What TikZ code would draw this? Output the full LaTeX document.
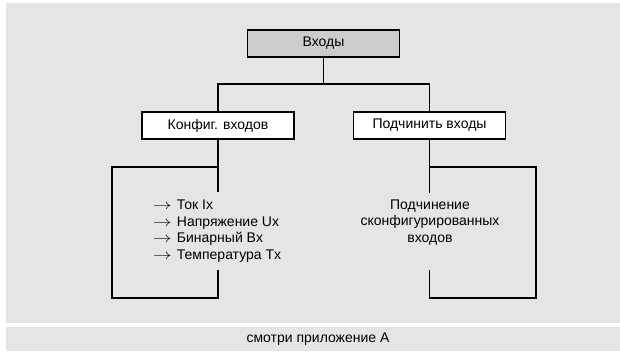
\documentclass[tikz,border=0pt]{standalone}
\usepackage{fontspec}
\usepackage{graphicx}
\setmainfont{Liberation Sans}
\newcommand{\listarrow}{\scalebox{1.3}[1]{$\rightarrow$}}
\begin{document}
\begin{tikzpicture}[x=1pt,y=-1pt,
  lbl/.style={font=\fontsize{14}{16.5}\selectfont, inner sep=0pt},
  boxnode/.style={draw=black, line width=1.6pt, minimum width=152pt, minimum height=27pt, inner sep=0pt, font=\fontsize{14}{16}\selectfont},
  conn/.style={draw=black, line width=1.6pt}]
\useasboundingbox (0,0) rectangle (620,352);
\fill[white] (0,0) rectangle (620,352);
\fill[fill={rgb,255:red,229;green,229;blue,229}] (6,3) rectangle (620,322.5);
\fill[fill={rgb,255:red,229;green,229;blue,229}] (6,326.5) rectangle (620,351);
% boxes
\node[boxnode, fill={rgb,255:red,204;green,204;blue,204}] (inp) at (323.5,43.5) {Входы};
\node[boxnode, fill=white] (conf) at (218,125.5) {Конфиг. входов};
\node[boxnode, fill=white] (sub) at (429.5,125.5) {Подчинить входы};
% tree connectors
\coordinate (junc) at (323.5,84);
\coordinate (jl) at (218,84);
\coordinate (jr) at (429.5,84);
\draw[conn] (inp.south) -- (junc);
\draw[conn, line cap=rect] (jl) -- (jr);
\draw[conn] (jl) -- (conf.north);
\draw[conn] (jr) -- (sub.north);
% left bracket
\coordinate (lt) at (218,192);
\coordinate (lm) at (218,167);
\coordinate (lb) at (218,270);
\draw[conn] (conf.south) -- (lt);
\draw[conn, line join=miter] (lm) -- (112,167) -- (112,298) -- (218,298) -- (lb);
% right bracket
\coordinate (rt) at (429.5,193);
\coordinate (rm) at (429.5,167);
\coordinate (rb) at (429.5,270);
\draw[conn] (sub.south) -- (rt);
\draw[conn, line join=miter] (rm) -- (536,167) -- (536,298) -- (429.5,298) -- (rb);
% texts
\node[lbl, anchor=west, align=left] (list) at (153,231) {\listarrow\hspace{5pt}Ток Ix\\\listarrow\hspace{5pt}Напряжение Ux\\\listarrow\hspace{5pt}Бинарный Bx\\\listarrow\hspace{5pt}Температура Tx};
\node[lbl, align=center] (subtxt) at (430,222.5) {Подчинение\\сконфигурированных\\входов};
\node[lbl] (note) at (318,339) {смотри приложение A};
\end{tikzpicture}
\end{document}
